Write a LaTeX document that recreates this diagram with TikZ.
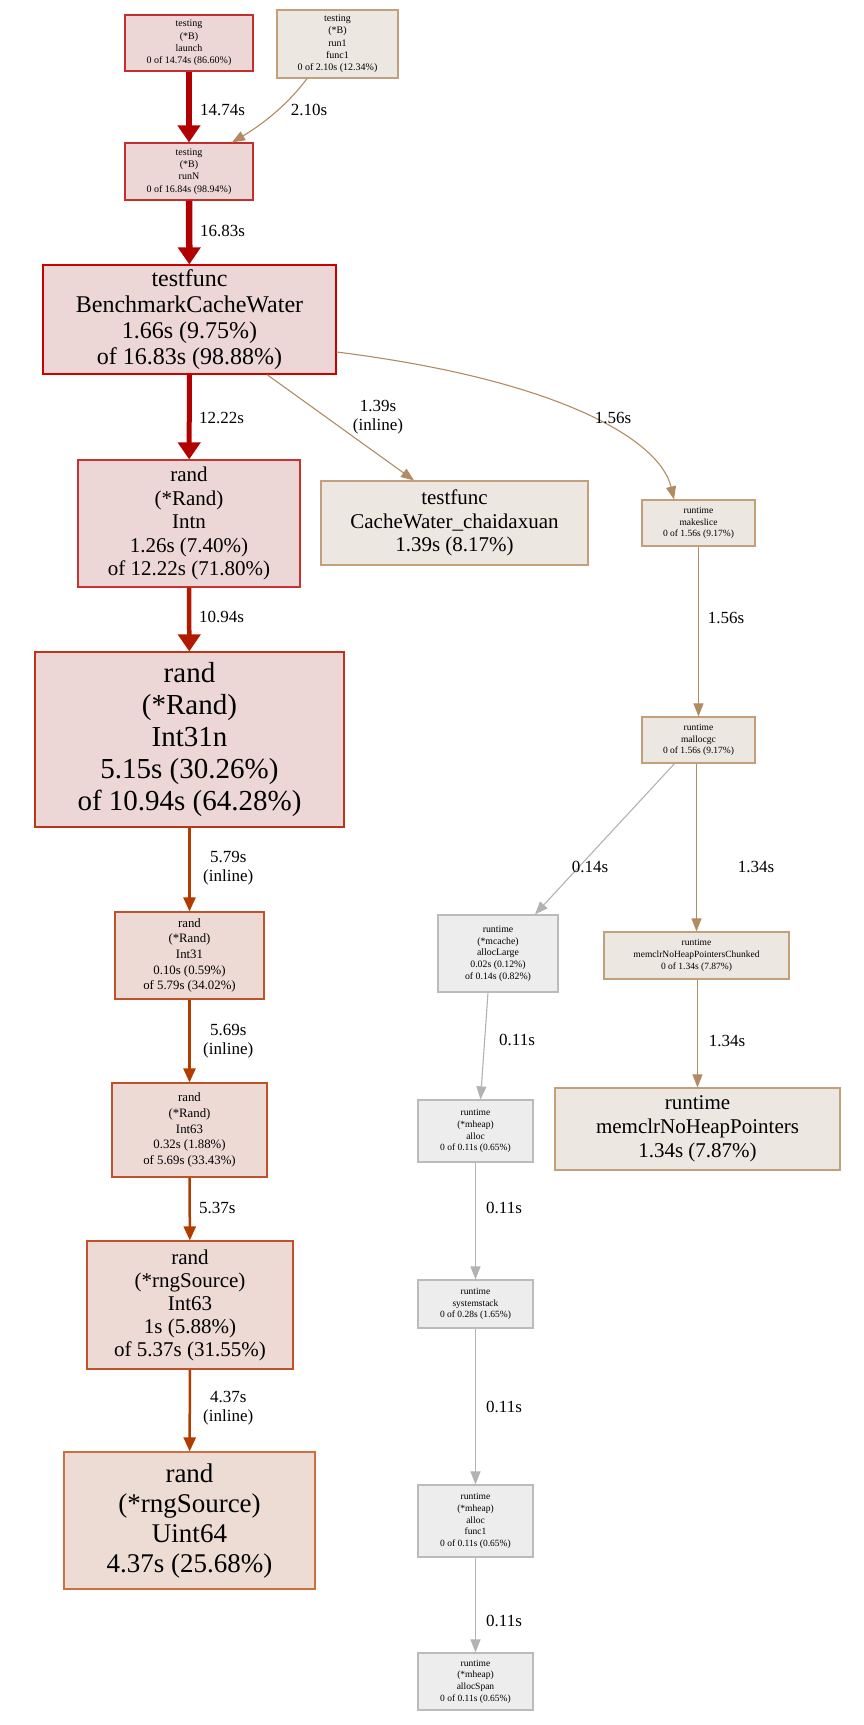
\documentclass[tikz,border=0pt]{standalone}
\usepackage{fontspec}
\setmainfont{Liberation Serif}
\usetikzlibrary{arrows.meta}
\definecolor{fillR}{HTML}{EDD6D6}
\definecolor{fillO}{HTML}{EDDAD5}
\definecolor{fillU}{HTML}{EDDCD4}
\definecolor{fillT}{HTML}{EDE7E2}
\definecolor{fillG}{HTML}{EDEDED}
\definecolor{bdR}{HTML}{C42E2E}
\definecolor{bdRR}{HTML}{CC0000}
\definecolor{bdRi}{HTML}{C83232}
\definecolor{bdRo}{HTML}{BE3418}
\definecolor{bdO}{HTML}{C0522A}
\definecolor{bdU}{HTML}{CC7040}
\definecolor{bdT}{HTML}{C2A07C}
\definecolor{bdG}{HTML}{BBBBBB}
\definecolor{eR}{HTML}{B20000}
\definecolor{eRo}{HTML}{B21A00}
\definecolor{eO}{HTML}{B23C00}
\definecolor{eT}{HTML}{B28B62}
\definecolor{eG}{HTML}{B2B2B2}
\begin{document}
\begin{tikzpicture}[x=1pt,y=-1pt,
  box/.style={draw, line width=1.2pt, inner sep=0pt, align=center, text=black},
  fs/.style 2 args={font=\fontsize{#1pt}{#2pt}\selectfont},
  rnode/.style={box, fill=fillR, draw=#1},
  onode/.style={box, fill=fillO, draw=#1},
  tnode/.style={box, fill=fillT, draw=bdT},
  gnode/.style={box, fill=fillG, draw=bdG},
  elab/.style={fs={17}{19}, align=center, inner sep=0pt, text=black},
  thin/.style={line width=1.1pt, -{Triangle[length=13pt,width=10pt]}},
  med/.style={line width=2.5pt, -{Triangle[length=14pt,width=12pt]}},
  thick/.style={line width=#1, -{Triangle[length=17pt,width=22pt]}}
]
\useasboundingbox (0,0) rectangle (864,1725);

% nodes
\node[rnode=bdR, fs={10}{12.3}, minimum width=128pt, minimum height=56pt] (launch) at (189,43)
  {testing\\(*B)\\launch\\0 of 14.74s (86.60\%)};
\node[tnode, fs={10}{12.3}, minimum width=121pt, minimum height=68pt] (run1) at (337.5,44)
  {testing\\(*B)\\run1\\func1\\0 of 2.10s (12.34\%)};
\node[rnode=bdR, fs={10}{12.3}, minimum width=128pt, minimum height=57pt] (runN) at (189,171.5)
  {testing\\(*B)\\runN\\0 of 16.84s (98.94\%)};
\node[rnode=bdRR, fs={24}{26}, minimum width=293pt, minimum height=109pt] (bcw) at (189.5,319.5)
  {testfunc\\BenchmarkCacheWater\\1.66s (9.75\%)\\of 16.83s (98.88\%)};
\node[rnode=bdRi, fs={21}{23.5}, minimum width=222pt, minimum height=127pt] (intn) at (189,523.5)
  {rand\\(*Rand)\\Intn\\1.26s (7.40\%)\\of 12.22s (71.80\%)};
\node[tnode, fs={21}{23.5}, minimum width=267pt, minimum height=84pt] (cw) at (454.5,523)
  {testfunc\\CacheWater\_chaidaxuan\\1.39s (8.17\%)};
\node[tnode, fs={9.5}{11.5}, minimum width=113pt, minimum height=46pt] (makeslice) at (698.5,523)
  {runtime\\makeslice\\0 of 1.56s (9.17\%)};
\node[rnode=bdRo, fs={29}{32}, minimum width=309pt, minimum height=175pt] (int31n) at (189.5,739.5)
  {rand\\(*Rand)\\Int31n\\5.15s (30.26\%)\\of 10.94s (64.28\%)};
\node[tnode, fs={9.5}{11.5}, minimum width=113pt, minimum height=46pt] (mallocgc) at (698.5,740)
  {runtime\\mallocgc\\0 of 1.56s (9.17\%)};
\node[onode=bdO, fill=fillO, fs={12.8}{15.7}, minimum width=149pt, minimum height=87pt] (int31) at (189.5,955.5)
  {rand\\(*Rand)\\Int31\\0.10s (0.59\%)\\of 5.79s (34.02\%)};
\node[gnode, fs={9.8}{11.7}, minimum width=120pt, minimum height=77pt] (alarge) at (498,953.5)
  {runtime\\(*mcache)\\allocLarge\\0.02s (0.12\%)\\of 0.14s (0.82\%)};
\node[tnode, fs={9.5}{11.7}, minimum width=185pt, minimum height=47pt] (chunk) at (696.5,955.5)
  {runtime\\memclrNoHeapPointersChunked\\0 of 1.34s (7.87\%)};
\node[onode=bdO, fs={12.8}{15.7}, minimum width=155pt, minimum height=94pt] (int63) at (189.5,1130)
  {rand\\(*Rand)\\Int63\\0.32s (1.88\%)\\of 5.69s (33.43\%)};
\node[gnode, fs={9.5}{11.7}, minimum width=115pt, minimum height=62pt] (alloc) at (475.5,1131)
  {runtime\\(*mheap)\\alloc\\0 of 0.11s (0.65\%)};
\node[tnode, fs={21}{24}, minimum width=285pt, minimum height=82pt] (memclr) at (697.5,1129)
  {runtime\\memclrNoHeapPointers\\1.34s (7.87\%)};
\node[onode=bdO, fs={21}{23}, minimum width=206pt, minimum height=128pt] (rng63) at (190,1305)
  {rand\\(*rngSource)\\Int63\\1s (5.88\%)\\of 5.37s (31.55\%)};
\node[gnode, fs={9.5}{11.7}, minimum width=115pt, minimum height=48pt] (sysstack) at (475.5,1304)
  {runtime\\systemstack\\0 of 0.28s (1.65\%)};
\node[onode=bdU, fill=fillU, fs={27}{30}, minimum width=251pt, minimum height=137pt] (uint64) at (189.5,1520.5)
  {rand\\(*rngSource)\\Uint64\\4.37s (25.68\%)};
\node[gnode, fs={9.5}{11.7}, minimum width=115pt, minimum height=72pt] (afunc1) at (475.5,1521)
  {runtime\\(*mheap)\\alloc\\func1\\0 of 0.11s (0.65\%)};
\node[gnode, fs={9.5}{11.7}, minimum width=115pt, minimum height=57pt] (aspan) at (475.5,1681.5)
  {runtime\\(*mheap)\\allocSpan\\0 of 0.11s (0.65\%)};

% edges
\draw[thick=6pt, draw=eR] (launch) -- (runN);
\draw[thin, draw=eT] ([xshift=-30.5pt]run1.south) .. controls (285,108) and (258,127) .. ([xshift=43pt]runN.north);
\draw[thick=6.5pt, draw=eR] (runN) -- (bcw);
\draw[thick=5pt, draw=eR] (bcw) -- (intn);
\draw[thin, draw=eT] ([xshift=77.5pt]bcw.south) -- ([xshift=-40.5pt]cw.north);
\draw[thin, draw=eT] ([yshift=-32.5pt]bcw.east) .. controls (560,380) and (660,440) .. ([xshift=-24.5pt]makeslice.north);
\draw[thick=4.5pt, draw=eRo] (intn) -- (int31n);
\draw[thin, draw=eT] (makeslice) -- (mallocgc);
\draw[med, draw=eO] (int31n) -- (int31);
\draw[thin, draw=eG] ([xshift=-24pt]mallocgc.south) -- ([xshift=37pt]alarge.north);
\draw[thin, draw=eT] ([xshift=-2pt]mallocgc.south) -- (chunk.north);
\draw[med, draw=eO] (int31) -- (int63);
\draw[thin, draw=eG] ([xshift=-10pt]alarge.south) -- ([xshift=5pt]alloc.north);
\draw[thin, draw=eT] ([xshift=1pt]chunk.south) -- (memclr.north);
\draw[med, draw=eO] (int63) -- (rng63);
\draw[thin, draw=eG] (alloc) -- (sysstack);
\draw[med, draw=eO] (rng63) -- (uint64);
\draw[thin, draw=eG] (sysstack) -- (afunc1);
\draw[thin, draw=eG] (afunc1) -- (aspan);

% edge labels
\node[elab, anchor=west] (l1) at (200,110) {14.74s};
\node[elab] (l2) at (309,110) {2.10s};
\node[elab, anchor=west] (l3) at (200,231) {16.83s};
\node[elab, anchor=west] (l4) at (199,418) {12.22s};
\node[elab] (l5) at (378,417) {1.39s\\(inline)};
\node[elab] (l6) at (613,418) {1.56s};
\node[elab, anchor=west] (l7) at (199,617) {10.94s};
\node[elab] (l8) at (726,618) {1.56s};
\node[elab, anchor=west] (l9) at (203,868) {5.79s\\(inline)};
\node[elab] (l10) at (590,867) {0.14s};
\node[elab] (l11) at (756,867) {1.34s};
\node[elab, anchor=west] (l12) at (203,1041) {5.69s\\(inline)};
\node[elab] (l13) at (517,1040) {0.11s};
\node[elab] (l14) at (727,1041) {1.34s};
\node[elab, anchor=west] (l15) at (199,1208) {5.37s};
\node[elab] (l16) at (504,1208) {0.11s};
\node[elab, anchor=west] (l17) at (203,1408) {4.37s\\(inline)};
\node[elab] (l18) at (504,1407) {0.11s};
\node[elab] (l19) at (504,1621) {0.11s};
\end{tikzpicture}
\end{document}
